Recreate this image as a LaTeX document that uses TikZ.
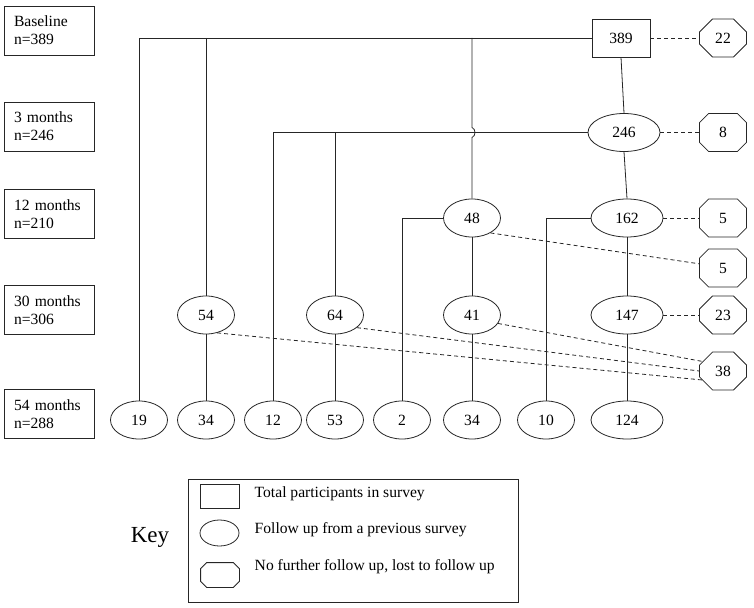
\documentclass[tikz,border=0pt]{standalone}
\usepackage{fontspec}
\setmainfont{Liberation Serif}
\usetikzlibrary{shapes.geometric,shapes.misc}
\begin{document}
\begin{tikzpicture}[x=1pt,y=-1pt, line width=0.8pt, draw=black!85,
  every node/.style={font=\fontsize{15.6}{18}\selectfont},
  lbl/.style={draw, rectangle, minimum width=90pt, minimum height=49pt, text width=70pt, align=left, inner xsep=10pt, inner ysep=0pt},
  tot/.style={draw, rectangle, minimum width=58pt, minimum height=38pt, inner sep=0pt},
  fu/.style={draw, ellipse, minimum width=57pt, minimum height=38pt, inner sep=0pt},
  fub/.style={fu, minimum width=72pt},
  lost/.style={draw, chamfered rectangle, chamfered rectangle sep=9pt, minimum width=47pt, minimum height=38pt, inner sep=0pt},
  dsh/.style={dashed, dash pattern=on 4pt off 3pt}]
\useasboundingbox (0,0) rectangle (754,607);

% time labels
\node[lbl] (l0) at (49,30.5) {Baseline\\n=389};
\node[lbl] (l1) at (49,126.5) {3 months\\n=246};
\node[lbl] (l2) at (49,214) {12 months\\n=210};
\node[lbl] (l3) at (49,310) {30 months\\n=306};
\node[lbl] (l4) at (49,414) {54 months\\n=288};

% main nodes
\node[tot] (b389) at (621,38) {389};
\node[lost] (o22) at (723,38) {22};
\node[fub] (e246) at (624,132.5) {246};
\node[lost] (o8) at (723,132.5) {8};
\node[fub] (e162) at (627,218) {162};
\node[fu] (e48) at (472,218) {48};
\node[lost] (o5a) at (723,218) {5};
\node[lost] (o5b) at (723,268) {5};
\node[fu] (e54) at (206,315) {54};
\node[fu] (e64) at (335,315) {64};
\node[fu] (e41) at (472,315) {41};
\node[fub] (e147) at (627,315) {147};
\node[lost] (o23) at (723,315) {23};
\node[lost] (o38) at (723,371) {38};

\node[fu] (f19) at (139,420) {19};
\node[fu] (f34a) at (206,420) {34};
\node[fu] (f12) at (273,420) {12};
\node[fu] (f53) at (335,420) {53};
\node[fu] (f2) at (402,420) {2};
\node[fu] (f34b) at (472,420) {34};
\node[fu] (f10) at (546,420) {10};
\node[fub] (f124) at (627,420) {124};

% solid connectors
\draw (b389.west) -| (f19.north);
\draw (b389.west -| e54.north) -- (e54.north);
\coordinate (h1) at (472,127.5);
\coordinate (h2) at (472,137.5);
\draw (b389.west -| e48.north) -- (h1) .. controls (476,129) and (476,136) .. (h2) -- (e48.north);
\draw (b389.south) -- (e246.north);
\draw (e246.west) -| (f12.north);
\draw (e246.west -| e64.north) -- (e64.north);
\draw (e246.south) -- (e162.north);
\draw (e48.west) -| (f2.north);
\draw (e162.west) -| (f10.north);
\draw (e48.south) -- (e41.north);
\draw (e162.south) -- (e147.north);
\draw (e54.south) -- (f34a.north);
\draw (e64.south) -- (f53.north);
\draw (e41.south) -- (f34b.north);
\draw (e147.south) -- (f124.north);

% dashed connectors
\draw[dsh] (b389.east) -- (o22.west);
\draw[dsh] (e246.east) -- (o8.west);
\draw[dsh] (e162.east) -- (o5a.west);
\draw[dsh] (e147.east) -- (o23.west);
\draw[dsh] (e48.-39) -- (o5b.170);
\draw[dsh] (e41.-18) -- (o38.155);
\draw[dsh] (e64.-30) -- (o38.west);
\draw[dsh] (e54.-58) -- (o38.203);

% key
\node[font=\fontsize{23}{27}\selectfont] (key) at (150,537) {Key};
\node[draw, rectangle, minimum width=330pt, minimum height=123pt, inner sep=0pt] (keybox) at (353,540.5) {};
\node[draw, rectangle, minimum width=39pt, minimum height=24pt, inner sep=0pt] (k1) at (219.5,496) {};
\node[draw, ellipse, minimum width=39pt, minimum height=26pt, inner sep=0pt] (k2) at (219.5,533) {};
\node[minimum width=38pt, minimum height=24pt, inner sep=0pt] (k3) at (220,575) {};
\draw ([xshift=6pt]k3.north west) -- ([xshift=-6pt]k3.north east) -- ([yshift=-6pt]k3.north east)
  -- ([yshift=6pt]k3.south east) -- ([xshift=-6pt]k3.south east) -- ([xshift=6pt]k3.south west)
  -- ([yshift=6pt]k3.south west) -- ([yshift=-6pt]k3.north west) -- cycle;
\node[anchor=west] (t1) at (251,494) {Total participants in survey};
\node[anchor=west] (t2) at (251,530) {Follow up from a previous survey};
\node[anchor=west] (t3) at (251,567) {No further follow up, lost to follow up};
\end{tikzpicture}
\end{document}
